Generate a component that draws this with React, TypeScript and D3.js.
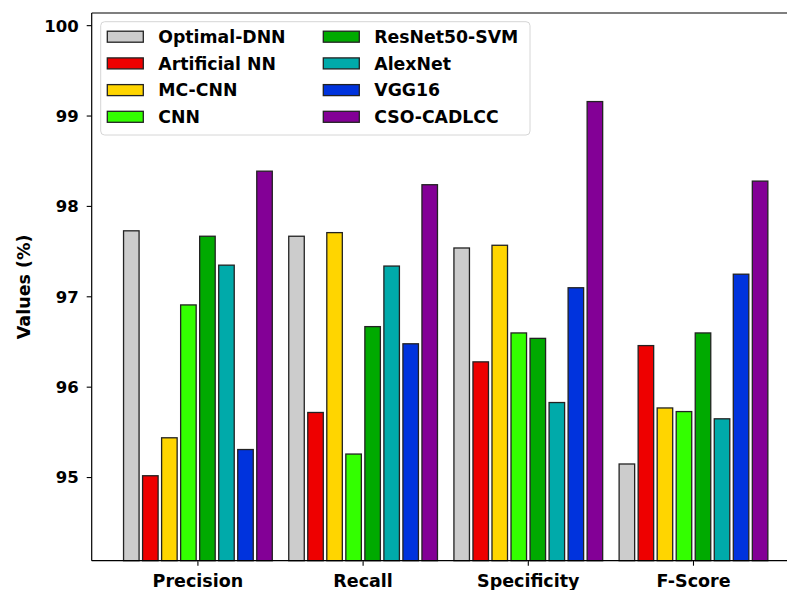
import * as d3 from 'd3';

const categories = ['Precision', 'Recall', 'Specificity', 'F-Score'];
const models = [
  'Optimal-DNN',
  'Artificial NN',
  'MC-CNN',
  'CNN',
  'ResNet50-SVM',
  'AlexNet',
  'VGG16',
  'CSO-CADLCC',
];
const colors = ['#cccccc', '#ee0000', '#ffd500', '#33ff00', '#00aa00', '#00aaaa', '#0033dd', '#830096'];

// one array per model, ordered like categories
const optimalDnn = [97.73, 97.67, 97.54, 95.15];
const artificialNn = [95.02, 95.72, 96.28, 96.46];
const mcCnn = [95.44, 97.71, 97.57, 95.77];
const cnn = [96.91, 95.26, 96.6, 95.73];
const resnetSvm = [97.67, 96.67, 96.54, 96.6];
const alexNet = [97.35, 97.34, 95.83, 95.65];
const vgg16 = [95.31, 96.48, 97.1, 97.25];
const csoCadlcc = [98.39, 98.24, 99.16, 98.28];
const series = [optimalDnn, artificialNn, mcCnn, cnn, resnetSvm, alexNet, vgg16, csoCadlcc];

const yTicks = [95, 96, 97, 98, 99, 100];

const W = 787;
const H = 590;
const margin = { top: 13, left: 91.7, bottom: 560.7 };
const FONT = 'DejaVu Sans';

export default function App() {
  // category axis is linear so the group offsets can be expressed in data units
  const x = d3.scaleLinear().domain([-0.643, 3.643]).range([margin.left, margin.left + 708]);
  const y = d3.scaleLinear().domain([94.08, 100.14]).range([margin.bottom, margin.top]);

  const stride = 0.1152;
  const barW = 0.094;

  return (
    <svg width={W} height={H} style={{ display: 'block', position: 'absolute', left: 0, top: 0 }}>
      <rect width={W} height={H} fill="#fff" />
      {/* bars */}
      {series.map((vals, si) =>
        vals.map((v, ci) => {
          const cx = ci + (si - 3.5) * stride;
          return (
            <rect
              key={`${si}-${ci}`}
              x={x(cx - barW / 2)}
              y={y(v)}
              width={x(barW) - x(0)}
              height={y(94.08) - y(v)}
              fill={colors[si]}
              stroke="#222"
              strokeWidth={1.3}
            />
          );
        }),
      )}
      {/* spines */}
      <line x1={margin.left} x2={margin.left} y1={margin.top} y2={margin.bottom} stroke="#000" strokeWidth={1.2} />
      <line x1={margin.left} x2={W} y1={margin.top} y2={margin.top} stroke="#000" strokeWidth={1.2} />
      <line x1={margin.left} x2={W} y1={margin.bottom} y2={margin.bottom} stroke="#000" strokeWidth={1.2} />
      {/* y ticks */}
      {yTicks.map((t) => (
        <g key={t}>
          <line x1={margin.left - 5} x2={margin.left} y1={y(t)} y2={y(t)} stroke="#000" strokeWidth={1.1} />
          <text
            x={margin.left - 13}
            y={y(t)}
            dy="0.36em"
            textAnchor="end"
            fontFamily={FONT}
            fontWeight="bold"
            fontSize={16.5}
          >
            {t}
          </text>
        </g>
      ))}
      {/* x ticks */}
      {categories.map((c, i) => (
        <g key={c}>
          <line x1={x(i)} x2={x(i)} y1={margin.bottom} y2={margin.bottom + 5} stroke="#000" strokeWidth={1.1} />
          <text
            x={x(i)}
            y={margin.bottom + 26}
            textAnchor="middle"
            fontFamily={FONT}
            fontWeight="bold"
            fontSize={17.5}
          >
            {c}
          </text>
        </g>
      ))}
      <text
        transform={`translate(30,${(margin.top + margin.bottom) / 2}) rotate(-90)`}
        textAnchor="middle"
        fontFamily={FONT}
        fontWeight="bold"
        fontSize={17.5}
      >
        Values (%)
      </text>
      {/* legend */}
      <g>
        <rect x={100.7} y={21.7} width={429.3} height={113.3} rx={4} fill="#fff" fillOpacity={0.8} stroke="#d6d6d6" />
        {models.map((m, i) => {
          const col = Math.floor(i / 4);
          const row = i % 4;
          const lx = 107.3 + col * 216;
          const ly = 36.7 + row * 26.7;
          return (
            <g key={m}>
              <rect x={lx} y={ly - 5.5} width={36} height={11} fill={colors[i]} stroke="#222" strokeWidth={1.3} />
              <text x={lx + 51} y={ly} dy="0.36em" fontFamily={FONT} fontWeight="bold" fontSize={17.3}>
                {m}
              </text>
            </g>
          );
        })}
      </g>
    </svg>
  );
}
